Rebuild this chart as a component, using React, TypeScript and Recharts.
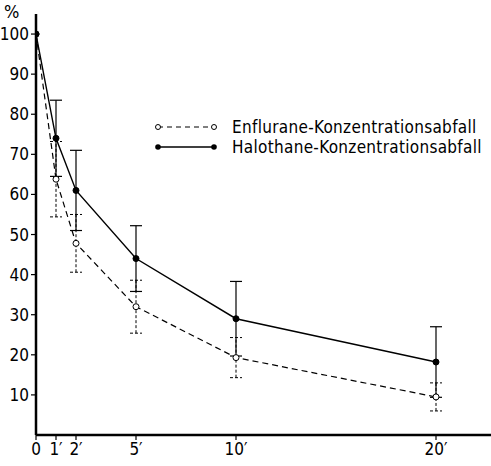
import React from 'react';
import { ComposedChart, Line, XAxis, YAxis, ErrorBar } from 'recharts';

const minutes = [0, 1, 2, 5, 10, 20];
const halothane = [100, 74, 61, 44, 29, 18.2];
const halothaneErr = [null, 9.5, 10, 8.2, 9.3, 8.8];
const enflurane = [100, 63.8, 47.8, 32, 19.3, 9.5];
const enfluraneErr = [null, 9.4, 7.2, 6.6, 5, 3.5];
const xTicks = [0, 1, 2, 5, 10, 20];
const xTickLabels = ['0', '1′', '2′', '5′', '10′', '20′'];
const yTicks = [10, 20, 30, 40, 50, 60, 70, 80, 90, 100];
const seriesNames = ['Enflurane-Konzentrationsabfall', 'Halothane-Konzentrationsabfall'];

const data = minutes.map((t, i) => ({
  t,
  hal: halothane[i],
  halErr: halothaneErr[i],
  enf: enflurane[i],
  enfErr: enfluraneErr[i],
}));

const FONT = '"DejaVu Sans Condensed", "DejaVu Sans", sans-serif';

const LegendContent = () => (
  <div style={{ fontFamily: FONT, fontSize: 17, letterSpacing: 0.3, color: '#000' }}>
    <div style={{ display: 'flex', alignItems: 'center', height: 20 }}>
      <svg width={78} height={12}>
        <line x1={4} y1={6} x2={60} y2={6} stroke="#000" strokeWidth={1.2} strokeDasharray="5 4" />
        <circle cx={4} cy={6} r={2.5} fill="#fff" stroke="#000" />
        <circle cx={60} cy={6} r={2.5} fill="#fff" stroke="#000" />
      </svg>
      <span>{seriesNames[0]}</span>
    </div>
    <div style={{ display: 'flex', alignItems: 'center', height: 20 }}>
      <svg width={78} height={12}>
        <line x1={4} y1={6} x2={60} y2={6} stroke="#000" strokeWidth={1.4} />
        <circle cx={4} cy={6} r={2.8} fill="#000" />
        <circle cx={60} cy={6} r={2.8} fill="#000" />
      </svg>
      <span>{seriesNames[1]}</span>
    </div>
  </div>
);

export default function App() {
  return (
    <div style={{ position: 'absolute', left: 0, top: 0, width: 491, height: 466, background: '#fff' }}>
      <ComposedChart
        width={491}
        height={466}
        data={data}
        margin={{ top: 14, right: 0, bottom: 1, left: 0 }}
      >
        <XAxis
          dataKey="t"
          type="number"
          domain={[0, 22.75]}
          ticks={xTicks}
          tickFormatter={(v: number) => xTickLabels[xTicks.indexOf(v)]}
          allowDataOverflow
          height={30}
          stroke="#000"
          strokeWidth={2.5}
          tickSize={5}
          tickMargin={3}
          tick={{ fill: '#000', fontSize: 17, fontFamily: FONT }}
          tickLine={{ stroke: '#000', strokeWidth: 1.2 }}
          interval={0}
        />
        <YAxis
          type="number"
          domain={[0, 105]}
          ticks={yTicks}
          allowDataOverflow
          width={36}
          stroke="#000"
          strokeWidth={2.5}
          tickSize={5}
          tick={{ fill: '#000', fontSize: 17, fontFamily: FONT }}
          tickLine={{ stroke: '#000', strokeWidth: 1.2 }}
        />
        <Line
          dataKey="enf"
          stroke="#000"
          strokeWidth={1.2}
          strokeDasharray="6 4"
          dot={{ r: 3, fill: '#fff', stroke: '#000', strokeWidth: 1, strokeDasharray: '' }}
          isAnimationActive={false}
          legendType="none"
        >
          <ErrorBar dataKey="enfErr" width={6} stroke="#000" strokeWidth={1} strokeDasharray="3 2" direction="y" />
        </Line>
        <Line
          dataKey="hal"
          stroke="#000"
          strokeWidth={1.4}
          dot={{ r: 3, fill: '#000', stroke: '#000', strokeWidth: 1 }}
          isAnimationActive={false}
          legendType="none"
        >
          <ErrorBar dataKey="halErr" width={6} stroke="#000" strokeWidth={1.2} direction="y" />
        </Line>
      </ComposedChart>
      <div style={{ position: 'absolute', left: 4, top: 1, fontFamily: FONT, fontSize: 18, color: '#000' }}>%</div>
      <div style={{ position: 'absolute', left: 154, top: 117 }}>
        <LegendContent />
      </div>
    </div>
  );
}
